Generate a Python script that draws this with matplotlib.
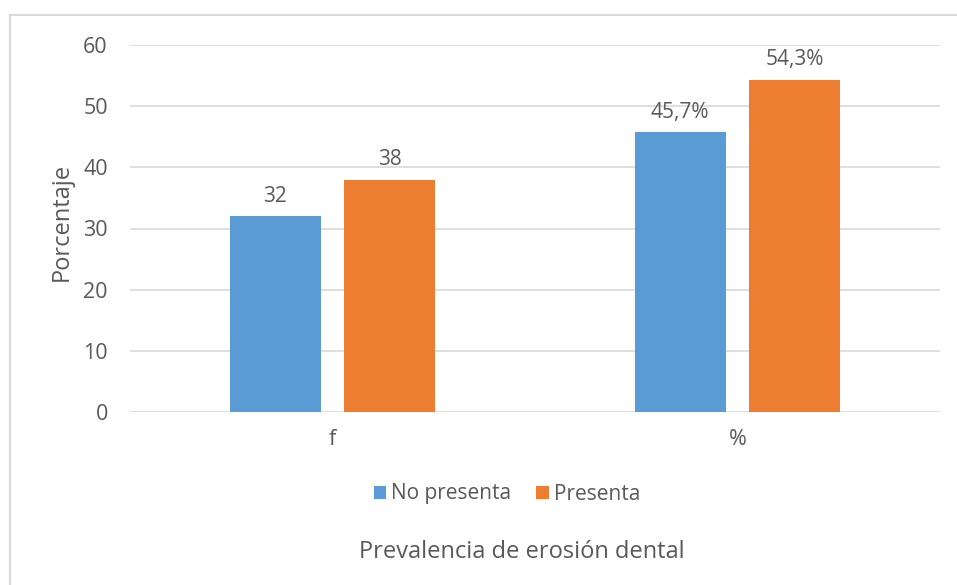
import matplotlib.pyplot as plt
from matplotlib.lines import Line2D
import numpy as np

categories = ['f', '%']
series_names = ['No presenta', 'Presenta']
no_presenta = [32, 45.7]
presenta = [38, 54.3]
labels_no = ['32', '45,7%']
labels_si = ['38', '54,3%']

W, H = 957, 585
TXT = '#595959'
GRID = '#d9d9d9'
BLUE = '#5b9bd5'
ORANGE = '#ed7d31'

plt.rcParams['font.family'] = ['Open Sans', 'DejaVu Sans']

fig = plt.figure(figsize=(W / 100, H / 100), dpi=100)
ax = fig.add_axes([130 / W, 1 - 412 / H, 810 / W, (412 - 45) / H])

x = np.arange(len(categories))
bw = 0.225
off = 0.1415
b1 = ax.bar(x - off, no_presenta, bw, color=BLUE, label=series_names[0], zorder=3)
b2 = ax.bar(x + off, presenta, bw, color=ORANGE, label=series_names[1], zorder=3)

for bars, labs in ((b1, labels_no), (b2, labels_si)):
    for bar, lab in zip(bars, labs):
        ax.annotate(lab, (bar.get_x() + bar.get_width() / 2, bar.get_height()),
                    xytext=(0, 7), textcoords='offset points', ha='center', va='bottom',
                    fontsize=15, color=TXT)

ax.set_xlim(-0.5, 1.5)
ax.set_ylim(0, 60)
ax.set_yticks(range(0, 61, 10))
ax.set_xticks(x)
ax.set_xticklabels(categories)
ax.yaxis.grid(True, color=GRID, linewidth=1.2, zorder=0)
ax.set_axisbelow(True)
for s in ax.spines.values():
    s.set_visible(False)
ax.tick_params(axis='both', length=0, labelsize=15.5, colors=TXT)
ax.tick_params(axis='y', pad=16)
ax.tick_params(axis='x', pad=12)

fig.text(62 / W, 1 - 222 / H, 'Porcentaje', rotation=90, ha='center', va='center',
         fontsize=17, color=TXT)
fig.text(522 / W, 1 - 552 / H, 'Prevalencia de erosión dental', ha='center', va='center',
         fontsize=17, color=TXT)

fig.legend(loc='center', bbox_to_anchor=(507 / W, 1 - 494 / H), ncol=2, frameon=False,
           fontsize=15, labelcolor=TXT, handlelength=0.6, handleheight=0.6,
           handletextpad=0.25, columnspacing=1.2)

# outer chart frame (top and left edges visible)
fig.add_artist(Line2D([9.5 / W, 9.5 / W], [0, 1 - 15 / H], transform=fig.transFigure,
                      color=GRID, linewidth=1.5))
fig.add_artist(Line2D([9.5 / W, 1], [1 - 15 / H, 1 - 15 / H], transform=fig.transFigure,
                      color=GRID, linewidth=1.5))

fig.savefig('out.png', dpi=100, facecolor='white')
